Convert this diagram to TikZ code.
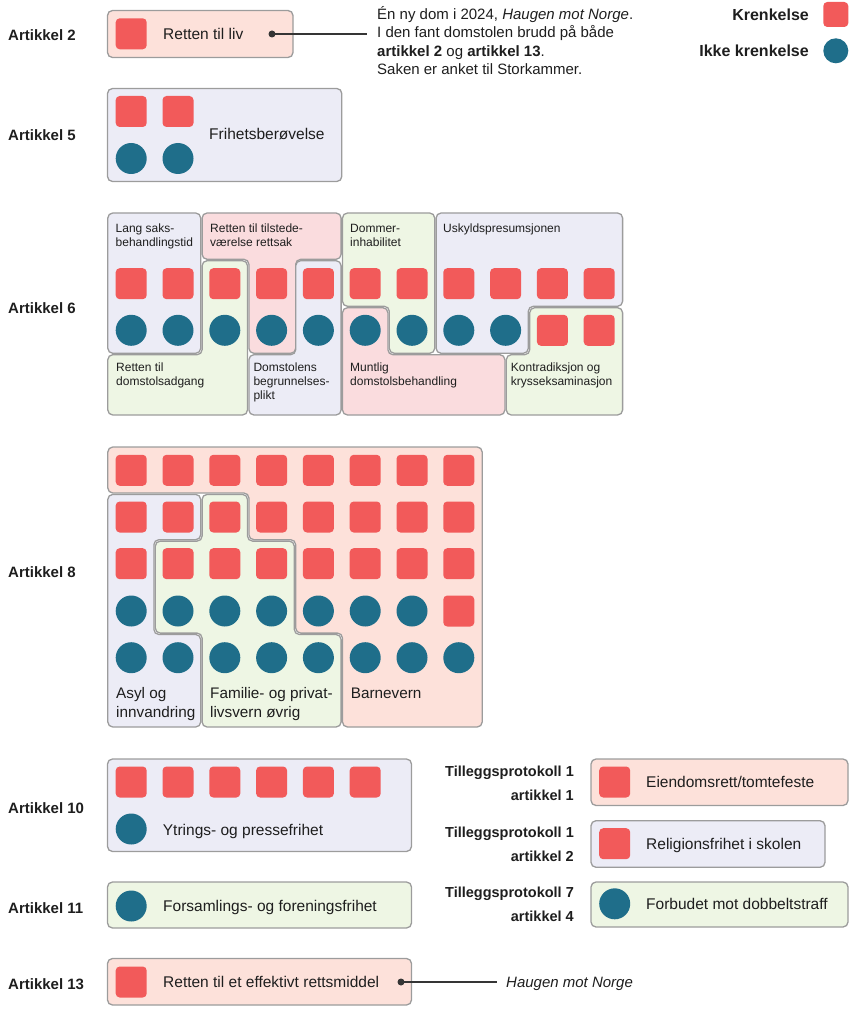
\documentclass[tikz,border=0pt]{standalone}
\usepackage{fontspec}
\setmainfont{Liberation Sans}
\definecolor{kred}{HTML}{F25A5A}
\definecolor{kteal}{HTML}{1F6E8A}
\definecolor{kpeach}{HTML}{FDE1DA}
\definecolor{kpink}{HTML}{FADCDE}
\definecolor{klav}{HTML}{ECECF6}
\definecolor{kgreen}{HTML}{EEF6E4}
\definecolor{kgrey}{HTML}{9C9C9C}
\definecolor{ktext}{HTML}{1E1E1E}
\newcommand\Lstack[1]{\begin{tabular}[t]{@{}l@{}}#1\end{tabular}}
\newcommand\Rstack[1]{\begin{tabular}[t]{@{}r@{}}#1\end{tabular}}
\begin{document}
\begin{tikzpicture}[x=1pt,y=-1pt,
  box/.style={draw=kgrey, line width=1.3pt, rounded corners=5pt},
  sq/.style={rectangle, fill=kred, rounded corners=4pt, minimum size=31pt, inner sep=0pt},
  ci/.style={circle, fill=kteal, minimum size=31pt, inner sep=0pt},
  lsq/.style={rectangle, fill=kred, rounded corners=4pt, minimum size=25pt, inner sep=0pt},
  lci/.style={circle, fill=kteal, minimum size=25pt, inner sep=0pt},
  lab/.style={anchor=base west, inner sep=0pt, text=ktext, font=\fontsize{15.5}{19}\selectfont},
  biglab/.style={anchor=base west, inner sep=0pt, text=ktext, font=\fontsize{15.3}{19}\selectfont},
  small/.style={anchor=base west, inner sep=0pt, text=ktext, font=\fontsize{12}{14}\selectfont},
  art/.style={anchor=base west, inner sep=0pt, text=ktext, font=\bfseries\fontsize{15}{18}\selectfont},
  prot/.style={anchor=base east, inner sep=0pt, text=ktext, font=\bfseries\fontsize{14.5}{24.3}\selectfont},
  leg/.style={anchor=base east, inner sep=0pt, text=ktext, font=\bfseries\fontsize{16}{19}\selectfont},
  dotn/.style={circle, fill=ktext!90, minimum size=7pt, inner sep=0pt},
  conn/.style={draw=ktext!90, line width=1.2pt}
]
\useasboundingbox (0,0) rectangle (853,1024);

% ---------- Article labels ----------
\node[art] (l2) at (8,40.5) {Artikkel 2};
\node[art] (l5) at (8,140.5) {Artikkel 5};
\node[art] (l6) at (8,313) {Artikkel 6};
\node[art] (l8) at (8,577) {Artikkel 8};
\node[art] (l10) at (8,813) {Artikkel 10};
\node[art] (l11) at (8,913) {Artikkel 11};
\node[art] (l13) at (8,989) {Artikkel 13};

% ---------- Legend ----------
\node[leg] (k1) at (809,20.5) {Krenkelse};
\node[leg] (k2) at (809,56.5) {Ikke krenkelse};
\node[lsq] (k1m) at (835.8,14.5) {};
\node[lci] (k2m) at (835.8,50.8) {};

% ---------- Artikkel 2 ----------
\filldraw[box, fill=kpeach] (107.5,10.5) rectangle (293,57.5);
\node[sq] (a2m) at (131.2,33.8) {};
\node[lab] (t2) at (163,39.5) {Retten til liv};
\node[dotn] (d2) at (272,34) {};
\coordinate (e2) at (367,34);
\draw[conn] (d2.center) -- (e2);
\node[anchor=base west, inner sep=0pt, text=ktext, font=\fontsize{15}{18.5}\selectfont] (ann) at (377,19.3)
  {\Lstack{Én ny dom i 2024, \textit{Haugen mot Norge}.\\I den fant domstolen brudd på både\\\textbf{artikkel 2} og \textbf{artikkel 13}.\\Saken er anket til Storkammer.}};

% ---------- Artikkel 5 ----------
\filldraw[box, fill=klav] (107.5,88.5) rectangle (341.8,181.5);
\node[sq] (a5s1) at (131.2,111.5) {};
\node[sq] (a5s2) at (178,111.5) {};
\node[ci] (a5c1) at (131.2,158.5) {};
\node[ci] (a5c2) at (178,158.5) {};
\node[lab] (t5) at (209,140) {Frihetsberøvelse};

% ---------- Artikkel 6 ----------
\filldraw[box, fill=klav] (107.8,213) -- (200.7,213) -- (200.7,353.3) -- (107.8,353.3) -- cycle;
\filldraw[box, fill=kgreen] (202.1,260.7) -- (247.5,260.7) -- (247.5,415) -- (107.8,415) -- (107.8,354.7) -- (202.1,354.7) -- cycle;
\filldraw[box, fill=kpink] (202.1,213) -- (341.1,213) -- (341.1,259.3) -- (295.7,259.3) -- (295.7,353.3) -- (248.9,353.3) -- (248.9,259.3) -- (202.1,259.3) -- cycle;
\filldraw[box, fill=klav] (295.7,260.7) -- (341.1,260.7) -- (341.1,415) -- (248.9,415) -- (248.9,354.7) -- (295.7,354.7) -- cycle;
\filldraw[box, fill=kgreen] (342.5,213) -- (434.7,213) -- (434.7,353.3) -- (389.3,353.3) -- (389.3,306.3) -- (342.5,306.3) -- cycle;
\filldraw[box, fill=kpink] (342.5,307.7) -- (387.9,307.7) -- (387.9,354.7) -- (504.9,354.7) -- (504.9,415) -- (342.5,415) -- cycle;
\filldraw[box, fill=klav] (436.1,213) -- (622.6,213) -- (622.6,306.3) -- (528.3,306.3) -- (528.3,353.3) -- (436.1,353.3) -- cycle;
\filldraw[box, fill=kgreen] (529.7,307.7) -- (622.6,307.7) -- (622.6,415) -- (506.3,415) -- (506.3,354.7) -- (529.7,354.7) -- cycle;

\foreach \c in {1,...,11} \node[sq] (a6s\c) at ({131.2+46.8*(\c-1)},283.7) {};
\foreach \c in {1,...,9} \node[ci] (a6c\c) at ({131.2+46.8*(\c-1)},330.3) {};
\foreach \c in {10,11} \node[sq] (a6c\c) at ({131.2+46.8*(\c-1)},330.3) {};

\node[small] (s1) at (115.5,233) {\Lstack{Lang saks-\\behandlingstid}};
\node[small] (s2) at (210,233) {\Lstack{Retten til tilstede-\\værelse rettsak}};
\node[small] (s3) at (350,233) {\Lstack{Dommer-\\inhabilitet}};
\node[small] (s4) at (443,233) {Uskyldspresumsjonen};
\node[small] (s5) at (116,371.5) {\Lstack{Retten til\\domstolsadgang}};
\node[small] (s6) at (253.3,371) {\Lstack{Domstolens\\begrunnelses-\\plikt}};
\node[small] (s7) at (350,371) {\Lstack{Muntlig\\domstolsbehandling}};
\node[small] (s8) at (510.7,371) {\Lstack{Kontradiksjon og\\krysseksaminasjon}};

% ---------- Artikkel 8 ----------
\filldraw[box, fill=kpeach] (107.8,447) -- (482.2,447) -- (482.2,727) -- (342.5,727) -- (342.5,633.1) -- (295.7,633.1) -- (295.7,539.7) -- (248.9,539.7) -- (248.9,493) -- (107.8,493) -- cycle;
\filldraw[box, fill=kgreen] (202.1,494.4) -- (247.5,494.4) -- (247.5,541.1) -- (294.3,541.1) -- (294.3,634.5) -- (341.1,634.5) -- (341.1,727) -- (202.1,727) -- (202.1,633.1) -- (155.3,633.1) -- (155.3,541.1) -- (202.1,541.1) -- cycle;
\filldraw[box, fill=klav] (107.8,494.4) -- (200.7,494.4) -- (200.7,539.7) -- (153.9,539.7) -- (153.9,634.5) -- (200.7,634.5) -- (200.7,727) -- (107.8,727) -- cycle;

\foreach \c in {1,...,8} {
  \node[sq] (a8r1c\c) at ({131.2+46.8*(\c-1)},470.3) {};
  \node[sq] (a8r2c\c) at ({131.2+46.8*(\c-1)},517) {};
  \node[sq] (a8r3c\c) at ({131.2+46.8*(\c-1)},563.7) {};
  \node[ci] (a8r5c\c) at ({131.2+46.8*(\c-1)},657.7) {};
}
\foreach \c in {1,...,7} \node[ci] (a8r4c\c) at ({131.2+46.8*(\c-1)},611) {};
\node[sq] (a8r4c8) at (458.8,611) {};

\node[biglab] (e1) at (116,698.5) {\Lstack{Asyl og\\innvandring}};
\node[biglab] (e2) at (210,698.5) {\Lstack{Familie- og privat-\\livsvern øvrig}};
\node[biglab] (e3) at (350.7,698.5) {Barnevern};

% ---------- Artikkel 10, 11, 13 ----------
\filldraw[box, fill=klav] (107.5,759) rectangle (411.5,851.5);
\foreach \c in {1,...,6} \node[sq] (a10s\c) at ({131.2+46.8*(\c-1)},782) {};
\node[ci] (a10c1) at (131.2,829) {};
\node[lab] (t10) at (162.7,835) {Ytrings- og pressefrihet};

\filldraw[box, fill=kgreen] (107.5,882) rectangle (411.5,928);
\node[ci] (a11c1) at (131.2,906) {};
\node[lab] (t11) at (163,911.5) {Forsamlings- og foreningsfrihet};

\filldraw[box, fill=kpeach] (107.5,958.5) rectangle (411.5,1005);
\node[sq] (a13s1) at (131.2,982) {};
\node[lab] (t13) at (163,987.5) {Retten til et effektivt rettsmiddel};
\node[dotn] (d13) at (401,982) {};
\node[anchor=base west, inner sep=0pt, text=ktext, font=\itshape\fontsize{15}{18}\selectfont] (hmn) at (506,987.5) {Haugen mot Norge};
\draw[conn, shorten >=9pt] (d13.center) -- (hmn.west |- d13.center);

% ---------- Tilleggsprotokoller ----------
\node[prot] (p1) at (574,776) {\Rstack{Tilleggsprotokoll 1\\artikkel 1}};
\node[prot] (p2) at (574,837.3) {\Rstack{Tilleggsprotokoll 1\\artikkel 2}};
\node[prot] (p3) at (574,897.3) {\Rstack{Tilleggsprotokoll 7\\artikkel 4}};

\filldraw[box, fill=kpeach] (591,759) rectangle (848,805.5);
\node[sq] (r1m) at (614.7,782) {};
\node[lab] (r1t) at (646,787.3) {Eiendomsrett/tomtefeste};

\filldraw[box, fill=klav] (591,820.7) rectangle (825,867.3);
\node[sq] (r2m) at (614.7,843.7) {};
\node[lab] (r2t) at (646,849.3) {Religionsfrihet i skolen};

\filldraw[box, fill=kgreen] (591,882) rectangle (848,927);
\node[ci] (r3m) at (614.7,903.8) {};
\node[lab] (r3t) at (646,909.3) {Forbudet mot dobbeltstraff};
\end{tikzpicture}
\end{document}
